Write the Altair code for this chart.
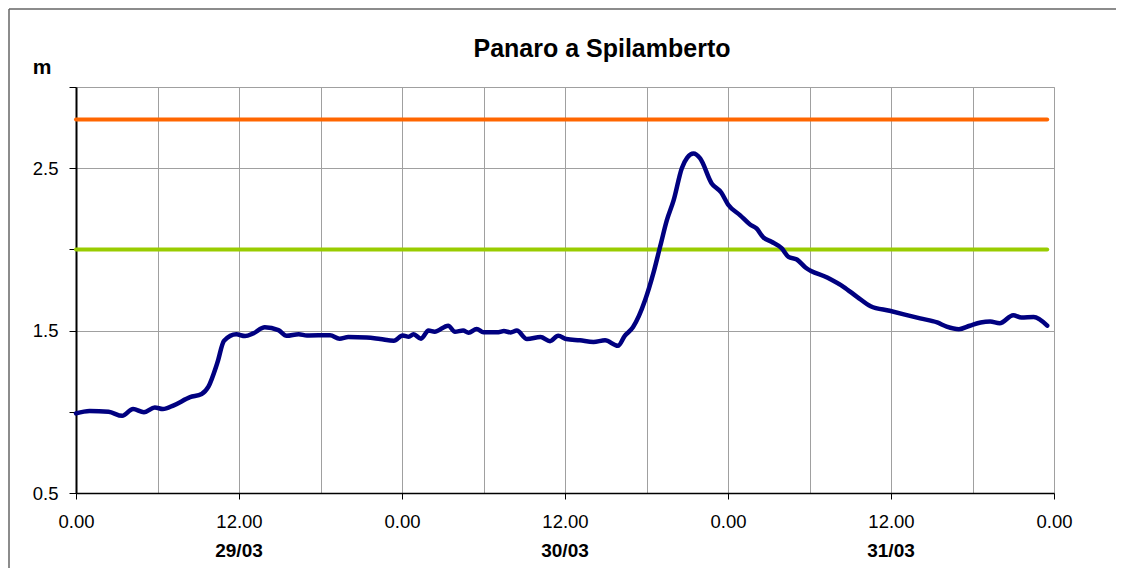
import altair as alt
import pandas as pd

# Water level series (hours from 29/03 00:00, level in m)
hours = [0.0, 1.0, 2.4, 3.4, 4.2, 5.0, 5.8, 6.4, 7.2, 8.4, 9.25, 9.75, 10.4, 10.9, 11.8,
         12.45, 13.05, 13.9, 14.9, 15.5, 16.4, 17.0, 18.7, 19.4, 20.05, 21.4, 22.4, 23.4,
         24.05, 24.5, 24.85, 25.4, 25.95, 26.4, 27.4, 27.9, 28.5, 28.9, 29.5, 30.0, 31.1,
         31.5, 32.0, 32.45, 33.2, 34.2, 34.9, 35.5, 36.1, 37.1, 38.1, 38.95, 39.9, 40.4,
         41.0, 41.9, 42.5, 43.0, 43.5, 44.0, 44.6, 45.0, 45.46, 45.95, 46.8, 47.5, 48.0,
         48.9, 49.6, 50.1, 50.6, 51.2, 51.96, 52.45, 53.07, 53.7, 55.3, 56.5, 57.5, 58.5,
         59.9, 62.15, 63.4, 64.1, 65.0, 65.8, 66.6, 67.3, 68.0, 69.0, 69.6, 70.5, 71.5]
levels = [0.99, 1.005, 1.0, 0.975, 1.017, 0.997, 1.027, 1.017, 1.04, 1.09, 1.11, 1.155, 1.30, 1.437, 1.477,
          1.466, 1.483, 1.52, 1.503, 1.468, 1.478, 1.47, 1.472, 1.45, 1.46, 1.458, 1.448, 1.437,
          1.47, 1.462, 1.477, 1.45, 1.50, 1.493, 1.53, 1.493, 1.50, 1.487, 1.51, 1.49, 1.49,
          1.497, 1.489, 1.50, 1.448, 1.46, 1.435, 1.468, 1.448, 1.44, 1.43, 1.44, 1.406, 1.468,
          1.52, 1.688, 1.852, 2.016, 2.18, 2.303, 2.50, 2.565, 2.59, 2.56, 2.406, 2.35, 2.277,
          2.21, 2.155, 2.129, 2.074, 2.047, 2.006, 1.954, 1.938, 1.889, 1.827, 1.77, 1.708, 1.65,
          1.622, 1.575, 1.55, 1.525, 1.509, 1.53, 1.55, 1.556, 1.545, 1.595, 1.58, 1.583, 1.53]

# Threshold levels
threshold_names = ["soglia 1", "soglia 2"]
threshold_levels = [2.0, 2.8]
threshold_colors = ["#99CC00", "#FF6600"]
threshold_span = [0.0, 71.5]

# Date labels under the axis
date_hours = [12, 36, 60]
date_labels = ["29/03", "30/03", "31/03"]

W, H = 978, 406

series = pd.DataFrame({"h": hours, "v": levels})
thr = pd.DataFrame([
    {"name": n, "h": s, "v": lv}
    for n, lv in zip(threshold_names, threshold_levels) for s in threshold_span
])
dates = pd.DataFrame({"h": date_hours, "label": date_labels})

xscale = alt.Scale(domain=[0, 72], nice=False, zero=False)
yscale = alt.Scale(domain=[0.5, 3.0], nice=False, zero=False)

xaxis = alt.Axis(
    values=list(range(0, 73, 6)),
    labelExpr="datum.value % 24 == 0 ? '0.00' : (datum.value % 12 == 0 ? '12.00' : '')",
    labelFlush=False, labelOverlap=False, title=None,
    tickOpacity={"condition": {"test": "datum.value % 12 == 0", "value": 1}, "value": 0},
    tickSize=6, tickColor="black", tickWidth=1,
    domainColor="black", domainWidth=1.5,
    grid=True, gridColor="#a0a0a0", gridWidth=1,
    labelFont="Liberation Sans", labelFontSize=18.5, labelColor="black", labelPadding=13,
)
yaxis = alt.Axis(
    values=[0.5, 1.0, 1.5, 2.0, 2.5, 3.0],
    labelExpr="(datum.value == 0.5 || datum.value == 1.5 || datum.value == 2.5) ? format(datum.value, '.1f') : ''",
    title=None, labelFlush=False, labelOverlap=False,
    tickSize=7, tickColor="black", tickWidth=1,
    domainColor="black", domainWidth=2,
    grid=True, gridColor="#a0a0a0", gridWidth=1,
    gridOpacity={"condition": {"test": "datum.value == 1.5 || datum.value == 2.5", "value": 1}, "value": 0},
    labelFont="Liberation Sans", labelFontSize=18.5, labelColor="black", labelPadding=11,
)

base_line = alt.Chart(series).mark_line(
    color="#000080", strokeWidth=4.5, interpolate="monotone", strokeCap="round", strokeJoin="round"
).encode(
    x=alt.X("h:Q", scale=xscale, axis=xaxis),
    y=alt.Y("v:Q", scale=yscale, axis=yaxis),
)

thr_lines = alt.Chart(thr).mark_line(strokeWidth=4, strokeCap="round").encode(
    x=alt.X("h:Q", scale=xscale),
    y=alt.Y("v:Q", scale=yscale),
    detail="name:N",
    color=alt.Color("name:N", scale=alt.Scale(domain=threshold_names, range=threshold_colors), legend=None),
)

date_text = alt.Chart(dates).mark_text(
    font="Liberation Sans", fontSize=19, fontWeight="bold", color="black", baseline="alphabetic"
).encode(
    x=alt.X("h:Q", scale=xscale),
    y=alt.value(470),
    text="label:N",
)

frame_df = pd.DataFrame({"k": [0]})
frame_left = alt.Chart(frame_df).mark_rule(stroke="#666666", strokeWidth=1.5).encode(
    x=alt.value(-67), y=alt.value(-78), y2=alt.value(481)
)
frame_top = alt.Chart(frame_df).mark_rule(stroke="#666666", strokeWidth=1.5).encode(
    x=alt.value(-67), x2=alt.value(1040), y=alt.value(-78)
)

title_df = pd.DataFrame({"t": ["Panaro a Spilamberto"]})
title = alt.Chart(title_df).mark_text(
    font="Liberation Sans", fontSize=25, fontWeight="bold", color="black", align="center", baseline="alphabetic"
).encode(x=alt.value(526), y=alt.value(-30), text="t:N")

unit_df = pd.DataFrame({"t": ["m"]})
unit = alt.Chart(unit_df).mark_text(
    font="Liberation Sans", fontSize=21, fontWeight="bold", color="black", align="center", baseline="alphabetic"
).encode(x=alt.value(-34), y=alt.value(-13), text="t:N")

chart = alt.layer(thr_lines, base_line, date_text, title, unit, frame_left, frame_top).properties(
    width=W, height=H,
    autosize=alt.AutoSizeParams(type="none"),
    padding={"left": 68, "top": 79, "right": 69, "bottom": 75},
    background="white",
).configure_view(stroke="#a0a0a0", strokeWidth=1)

chart.save("out.html", embed_options={"renderer": "svg", "actions": False})
